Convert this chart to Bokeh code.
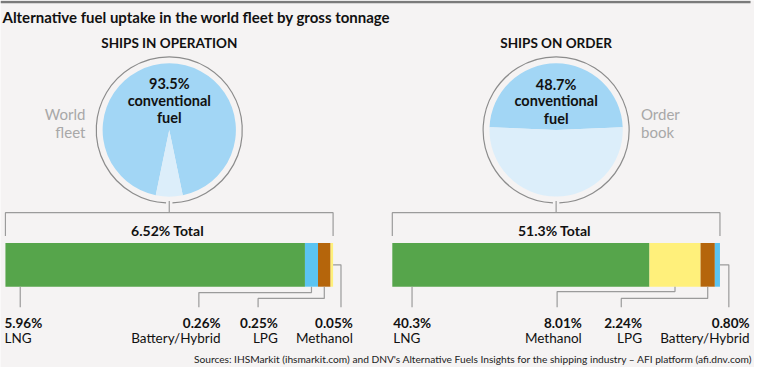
import math
from bokeh.plotting import figure
from bokeh.models import Range1d, ColumnDataSource
from bokeh.core.properties import value
from bokeh.embed import file_html
from bokeh.resources import INLINE

# ---------------- data ----------------
title_text = "Alternative fuel uptake in the world fleet by gross tonnage"
panel_titles = ["SHIPS IN OPERATION", "SHIPS ON ORDER"]
pie_side_labels = [["World", "fleet"], ["Order", "book"]]
conventional_share = [93.5, 48.7]
total_labels = ["6.52%", "51.3%"]

op_fuels = ["LNG", "Battery/Hybrid", "LPG", "Methanol"]
op_values = [5.96, 0.26, 0.25, 0.05]
op_labels = ["5.96%", "0.26%", "0.25%", "0.05%"]

order_fuels = ["LNG", "Methanol", "LPG", "Battery/Hybrid"]
order_values = [40.3, 8.01, 2.24, 0.80]
order_labels = ["40.3%", "8.01%", "2.24%", "0.80%"]

source_text = ("Sources: IHSMarkit (ihsmarkit.com) and DNV's Alternative Fuels Insights "
               "for the shipping industry \u2013 AFI platform (afi.dnv.com)")

# ---------------- styles ----------------
fuel_colors = {"LNG": "#56A54B", "Battery/Hybrid": "#5BC4F1",
               "LPG": "#B5650B", "Methanol": "#FFF07B"}
BG = "#F5F3F3"
PIE_DARK = "#A2D6F5"
PIE_LIGHT = "#DCEEFA"
LINE = "#9B9B9B"
RING = "#8C8C8C"
TXT = "#111111"
GREY_TXT = "#A8A8A8"
FONT = value("Lato")

W, H = 754, 367
# layout coordinates are expressed in reference-picture pixels
XL, XR = 3, 767
YT, YB = 4, 381
S = 0.98  # screen scale of the layout


def Y(ref):
    return -ref


p = figure(width=W, height=H, x_range=Range1d(XL, XR), y_range=Range1d(-YB, -YT),
           output_backend="svg", toolbar_location=None,
           x_axis_location=None, y_axis_location=None, min_border=0,
           background_fill_color=BG, border_fill_color=BG, outline_line_color=None)
p.grid.visible = False


def txt(x, y, s, size=13.5, bold=False, align="left", color=TXT, rng="default", baseline="middle"):
    p.text(x=[x], y=[y], text=[s], text_font=FONT, text_font_size=f"{size}px",
           text_font_style="bold" if bold else "normal", text_align=align,
           text_baseline=baseline, text_color=color, x_range_name=rng)


# top rule + title
p.line(x=[3, 763], y=[Y(5.5), Y(5.5)], line_color="#7A7A7A", line_width=2.5)
txt(5, Y(20.5), title_text, size=15, bold=True)

# source
txt(765, Y(372), source_text, size=10.2, align="right", color="#222222")

panels = [
    dict(fuels=op_fuels, values=op_values, labels=op_labels, bar_left=8,
         side_x=89, side_align="right",
         leaders=[dict(kind="first", line_x=23, text_x=7),
                  dict(kind="mid", elbow=304, line_x=204, text_x=226),
                  dict(kind="mid", elbow=310, line_x=264, text_x=284),
                  dict(kind="last", line_x=348, text_x=360)]),
    dict(fuels=order_fuels, values=order_values, labels=order_labels, bar_left=400,
         side_x=652, side_align="left",
         leaders=[dict(kind="first", line_x=420, text_x=401),
                  dict(kind="mid", elbow=303, line_x=567, text_x=592),
                  dict(kind="mid", elbow=310, line_x=632, text_x=653),
                  dict(kind="last", line_x=741, text_x=762)]),
]
BAR_PX = 332

for i, pan in enumerate(panels):
    vals = pan["values"]
    total = sum(vals)
    k = total / BAR_PX
    rname = f"panel{i}"
    p.extra_x_ranges[rname] = Range1d(-(pan["bar_left"] - XL) * k, (XR - pan["bar_left"]) * k)

    def to_px(v, pan=pan, total=total):
        return pan["bar_left"] + v * BAR_PX / total

    cx = total / 2
    cy = Y(137)

    # panel heading
    txt(cx, Y(48), panel_titles[i], size=13.5, bold=True, align="center", rng=rname)

    # pie
    conv = conventional_share[i]
    half_alt = (100 - conv) / 100 * 180
    a0 = math.radians(270.0 - half_alt)
    a1 = math.radians(270.0 + half_alt)
    p.wedge(x=[cx], y=[cy], radius=68 * S, radius_units="screen",
            start_angle=[a1], end_angle=[a0 + 2 * math.pi],
            fill_color=PIE_DARK, line_color=None, x_range_name=rname)
    p.wedge(x=[cx], y=[cy], radius=68 * S, radius_units="screen",
            start_angle=[a0], end_angle=[a1],
            fill_color=PIE_LIGHT, line_color=None, x_range_name=rname)
    p.arc(x=[cx], y=[cy], radius=74.5 * S, radius_units="screen",
          start_angle=math.radians(-87.5), end_angle=math.radians(267.5),
          line_color=RING, line_width=1.2, x_range_name=rname)

    pie_y = [89, 107, 124] if i == 0 else [90, 107, 125]
    for s, yy in zip([f"{conv}%", "conventional", "fuel"], pie_y):
        txt(cx, Y(yy), s, size=14.5, bold=True, align="center", rng=rname)

    for s, yy in zip(pie_side_labels[i], [121, 139]):
        txt(pan["side_x"], Y(yy), s, size=15, align=pan["side_align"], color=GREY_TXT)

    # connector + bracket
    p.line(x=[cx, cx], y=[Y(210), Y(222)], line_color=LINE, line_width=1.2, x_range_name=rname)
    p.line(x=[0, 0, total, total], y=[Y(246), Y(222), Y(222), Y(246)],
           line_color=LINE, line_width=1.2, x_range_name=rname)
    txt(cx, Y(240), f"{total_labels[i]}  Total", size=14, bold=True, align="center", rng=rname)

    # stacked bar
    lefts, rights = [], []
    c = 0.0
    for v in vals:
        lefts.append(c)
        c += v
        rights.append(c)
    src = ColumnDataSource(dict(left=lefts, right=rights, y=[Y(275.5)] * len(vals),
                                color=[fuel_colors[f] for f in pan["fuels"]]))
    p.hbar(y="y", left="left", right="right", height=45, fill_color="color",
           line_color=None, source=src, x_range_name=rname)

    # leaders and labels
    for j, (lead, fuel, lab) in enumerate(zip(pan["leaders"], pan["fuels"], pan["labels"])):
        lx = lead["line_x"]
        if lead["kind"] == "first":
            xs, ys = [lx, lx], [Y(298), Y(319)]
            align = "left"
        elif lead["kind"] == "mid":
            m = to_px((lefts[j] + rights[j]) / 2)
            xs = [m, m, lx, lx]
            ys = [Y(298), Y(lead["elbow"]), Y(lead["elbow"]), Y(319)]
            align = "right"
        else:
            e = to_px(rights[j])
            xs = [e, lx, lx]
            ys = [Y(275.5), Y(275.5), Y(319)]
            align = "right"
        p.line(x=xs, y=ys, line_color=LINE, line_width=1.2)
        txt(lead["text_x"], Y(335), lab, size=13.5, bold=True, align=align)
        txt(lead["text_x"], Y(350.5), fuel, size=13.5, align=align)

open("out.html", "w").write(file_html(p, INLINE))
